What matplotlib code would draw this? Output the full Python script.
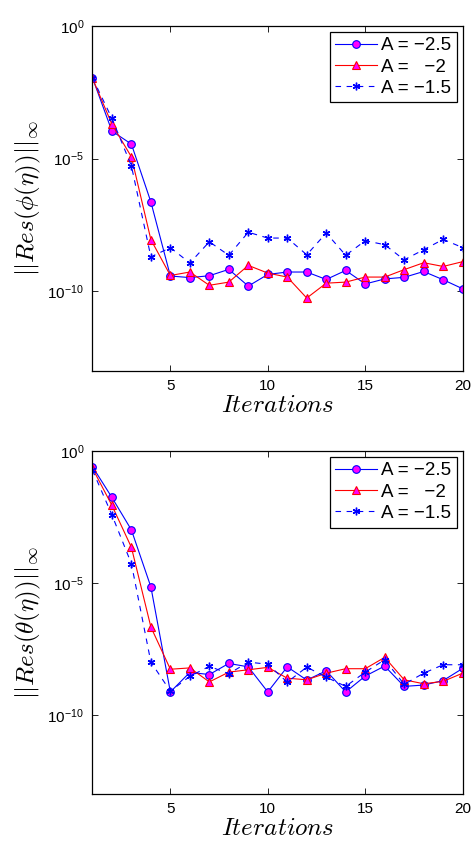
#!/usr/bin/env python3

import matplotlib
matplotlib.use("Agg")
import matplotlib.pyplot as plt
import numpy as np

plt.rcParams['font.family'] = ['Liberation Sans', 'DejaVu Sans']
plt.rcParams['mathtext.fontset'] = 'custom'
plt.rcParams['mathtext.rm'] = 'Liberation Sans'
plt.rcParams['mathtext.it'] = 'Liberation Sans:italic'

iters = list(range(1, 21))
labels = ['A = \u22122.5', 'A =   \u22122', 'A = \u22121.5']

# log10 of the residuals
phi_a25 = [-1.95, -3.96, -4.45, -6.63, -9.42, -9.48, -9.41, -9.17, -9.80, -9.36,
           -9.27, -9.27, -9.55, -9.21, -9.72, -9.53, -9.47, -9.25, -9.56, -9.90]
phi_a20 = [-1.97, -3.70, -4.93, -8.05, -9.40, -9.27, -9.77, -9.65, -9.02, -9.31,
           -9.46, -10.25, -9.69, -9.65, -9.46, -9.46, -9.18, -8.92, -9.06, -8.88]
phi_a15 = [-1.95, -3.48, -5.27, -8.70, -8.35, -8.93, -8.13, -8.64, -7.77, -7.99,
           -7.99, -8.62, -7.80, -8.64, -8.09, -8.24, -8.81, -8.43, -8.04, -8.35]

theta_a25 = [-0.59, -1.76, -2.99, -5.15, -9.13, -8.39, -8.47, -8.05, -8.18, -9.13,
             -8.18, -8.68, -8.33, -9.13, -8.53, -8.15, -8.92, -8.87, -8.70, -8.24]
theta_a20 = [-0.65, -2.06, -3.65, -6.67, -8.27, -8.22, -8.75, -8.38, -8.29, -8.20,
             -8.61, -8.67, -8.42, -8.25, -8.25, -7.82, -8.67, -8.82, -8.73, -8.42]
theta_a15 = [-0.72, -2.42, -4.27, -8.00, -9.10, -8.54, -8.16, -8.44, -8.00, -8.08,
             -8.76, -8.19, -8.57, -8.92, -8.38, -7.91, -8.84, -8.42, -8.10, -8.10]

fig = plt.figure(figsize=(4.74, 8.44), dpi=100)


def panel(rect, a25, a20, a15, ylabel):
    ax = fig.add_axes(rect)
    ax.semilogy(iters, 10.0 ** np.array(a25), '-o', color='blue', lw=0.8,
                mfc='magenta', mec='blue', ms=5.5, mew=0.8, label=labels[0])
    ax.semilogy(iters, 10.0 ** np.array(a20), '-^', color='red', lw=0.8,
                mfc='magenta', mec='red', ms=5.5, mew=0.8, label=labels[1])
    ax.semilogy(iters, 10.0 ** np.array(a15), marker=(6, 2, 0), ls=(0, (5, 5)),
                color='blue', lw=0.8, ms=5.5, mew=1.0, label=labels[2])
    ax.set_xlim(1, 20)
    ax.set_ylim(1e-13, 1e0)
    ax.set_xticks([5, 10, 15, 20])
    ax.set_yticks([1e-10, 1e-5, 1e0])
    ax.minorticks_off()
    ax.tick_params(direction='in', top=True, right=True, length=4, width=0.6,
                   labelsize=11, pad=6)
    for s in ax.spines.values():
        s.set_linewidth(0.9)
    ax.set_xlabel(r'$Iterations$', fontsize=18, math_fontfamily='cm', labelpad=0)
    ax.set_ylabel(ylabel, fontsize=18, math_fontfamily='cm', labelpad=3)
    leg = ax.legend(loc='upper right', fontsize=13.5, fancybox=False,
                    framealpha=1, edgecolor='black', borderpad=0.3,
                    handlelength=2.2, handletextpad=0.25, labelspacing=0.22,
                    borderaxespad=0.3)
    leg.get_frame().set_linewidth(0.9)
    return ax


panel([0.195, 0.5604, 0.781, 0.4088], phi_a25, phi_a20, phi_a15,
      r'$||Res(\phi(\eta))||_{\infty}$')
panel([0.195, 0.0592, 0.781, 0.4064], theta_a25, theta_a20, theta_a15,
      r'$||Res(\theta(\eta))||_{\infty}$')

fig.savefig('out.png', dpi=100)
